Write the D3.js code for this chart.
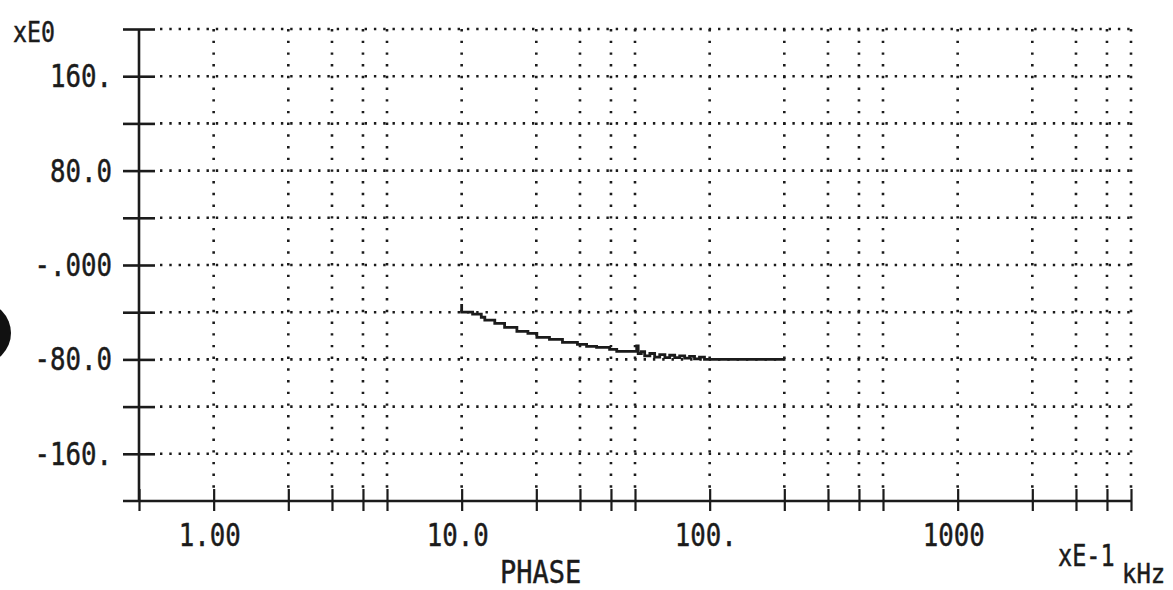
<!DOCTYPE html>
<html>
<head>
<meta charset="utf-8">
<script src="https://cdn.jsdelivr.net/npm/d3@7"></script>
<style>
  html, body { margin: 0; padding: 0; background: #fff; }
  svg { display: block; }
  text { font-family: "DejaVu Sans Mono", monospace; fill: #1b1b1b; stroke: #1b1b1b; stroke-width: 0.45; }
</style>
</head>
<body>
<svg id="chart" width="1173" height="590"></svg>
<script>
// Frequency axis (x10^-1 kHz), logarithmic
const xDomain = [0.5, 5000];
const xGridTicks = [1, 2, 3, 4, 5, 10, 20, 30, 40, 50, 100, 200, 300, 400, 500,
                    1000, 2000, 3000, 4000, 5000];
const xAxisTicks = [0.5].concat(xGridTicks);
const xLabelValues = [1, 10, 100, 1000];
const xLabelTexts = ["1.00", "10.0", "100.", "1000"];

// Phase axis (degrees)
const yDomain = [-200, 200];
const yGridTicks = [200, 160, 120, 80, 40, 0, -40, -80, -120, -160];
const yLabelValues = [160, 80, 0, -80, -160];
const yLabelTexts = ["160.", "80.0", "-.000", "-80.0", "-160."];

// Measured phase response
const phaseFreq = [10, 10, 11.07, 12.0, 12.4, 13.6, 14.9, 16.7, 18.5, 20.1, 22.6, 25.5,
                   29.3, 31.9, 35.0, 39.5, 42.2, 50.8, 51.5, 53.0, 54.7, 57.4, 60.0,
                   62.9, 66.0, 69.0, 72.3, 75.7, 79.3, 83.0, 86.9, 91.0, 95.3, 200];
const phaseDeg  = [-33, -40, -41.7, -44.3, -46.8, -49.4, -52.8, -56.2, -57.9, -61.3, -63.0, -65.5,
                   -67.2, -68.9, -69.8, -71.5, -73.2, -68.5, -75.0, -73.5, -77.0, -75.0, -78.0,
                   -76.0, -78.5, -76.5, -78.5, -77.0, -79.0, -77.5, -79.5, -78.0, -80.0, -80.0];

const ink = "#1b1b1b";
const svg = d3.select("#chart");

const x = d3.scaleLog().domain(xDomain).range([139, 1131]);
const y = d3.scaleLinear().domain(yDomain).range([501, 29]);

const x0 = x(xDomain[0]);
const x1 = x(xDomain[1]);

// Plot text: tall, narrow monospaced lettering
function plotText(tx, ty, str, anchor, size, sx, sy) {
  svg.append("text")
    .attr("transform", `translate(${tx},${ty}) scale(${sx || 0.86},${sy || 1.08})`)
    .attr("text-anchor", anchor)
    .attr("font-size", size || 30)
    .text(str);
}

// Horizontal dotted grid
svg.append("g").selectAll("line").data(yGridTicks).join("line")
  .attr("x1", x0 + 21).attr("x2", x1)
  .attr("y1", d => y(d)).attr("y2", d => y(d))
  .attr("stroke", ink).attr("stroke-width", 2.6)
  .attr("stroke-dasharray", "2.4,6.9");

// Vertical dotted grid
svg.append("g").selectAll("line").data(xGridTicks).join("line")
  .attr("x1", d => x(d)).attr("x2", d => x(d))
  .attr("y1", y(200)).attr("y2", y(-200) - 13)
  .attr("stroke", ink).attr("stroke-width", 2.6)
  .attr("stroke-dasharray", "2.4,9.3");

// Left axis
const yAxis = d3.axisLeft(y).tickValues(yGridTicks).tickSize(0).tickFormat("");
const gy = svg.append("g").attr("transform", `translate(${x0},0)`).call(yAxis);
gy.select(".domain").attr("stroke", ink).attr("stroke-width", 2.6).attr("d", `M0,${y(200)}V${y(-200)}`);
gy.selectAll(".tick line").attr("x1", -16).attr("x2", 16)
  .attr("stroke", ink).attr("stroke-width", 2.6);

// Bottom axis
const xAxis = d3.axisBottom(x).tickValues(xAxisTicks).tickSize(0).tickFormat("");
const gx = svg.append("g").attr("transform", `translate(0,${y(-200)})`).call(xAxis);
gx.select(".domain").attr("stroke", ink).attr("stroke-width", 2.6).attr("d", `M${x0 - 16},0H${x1}`);
gx.selectAll(".tick line").attr("y1", -12).attr("y2", 10)
  .attr("stroke", ink).attr("stroke-width", 2.2);

// Tick labels
yLabelValues.forEach((v, i) => plotText(112, y(v) + 11, yLabelTexts[i], "end"));
xLabelValues.forEach((v, i) => plotText(x(v) - 35, 546, xLabelTexts[i], "start"));

// Scale and unit annotations
plotText(13, 42, "xE0", "start", 27);
plotText(500, 583, "PHASE", "start", 30, 0.9);
plotText(1058, 566, "xE-1", "start", 28, 0.84);
plotText(1122, 583, "kHz", "start", 26, 0.92, 1.0);

// Phase trace
const line = d3.line()
  .x((d, i) => x(phaseFreq[i]))
  .y(d => y(d))
  .curve(d3.curveStepAfter);
svg.append("path")
  .datum(phaseDeg)
  .attr("d", line)
  .attr("fill", "none")
  .attr("stroke", ink)
  .attr("stroke-width", 2.8)
  .attr("stroke-linejoin", "miter");

// Punch hole at the sheet edge
svg.append("circle").attr("cx", -20).attr("cy", 333).attr("r", 31).attr("fill", "#111");
</script>
</body>
</html>
